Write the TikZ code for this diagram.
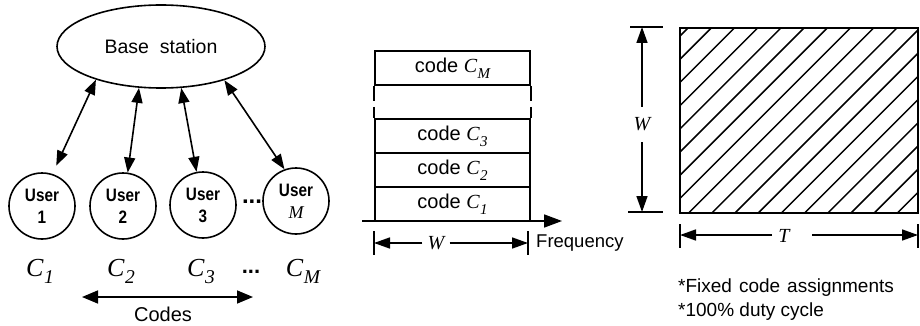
\documentclass[tikz,border=0pt]{standalone}
\usepackage{fontspec}
\setmainfont{Liberation Sans}
\newfontfamily\tmsfont{Liberation Serif}
\newfontfamily\narrowfont{Liberation Sans}[FakeStretch=0.85]
\usetikzlibrary{arrows.meta,shapes.geometric}
% italic serif symbol, optionally with a subscript
\newcommand\itsym[1]{{\tmsfont\itshape #1}}
\newcommand\csub[2]{{\tmsfont\itshape #1\kern0.02em\raisebox{-0.3em}{\scalebox{0.75}{#2}}}}

\begin{document}
\begin{tikzpicture}[x=1pt,y=-1pt,
  thick line/.style={line width=1.6pt},
  linkarrow/.style={thick line,{Triangle[length=15pt,width=11pt]}-{Triangle[length=15pt,width=11pt]}},
  dimarrow/.style={thick line,-{Triangle[length=16pt,width=11pt]}},
  userbox/.style={circle,draw,thick line,minimum size=66pt,inner sep=0pt,align=center,
    font=\narrowfont\bfseries\fontsize{18}{22}\selectfont},
  codebox/.style={rectangle,draw,thick line,minimum width=155pt,minimum height=34pt,inner sep=0pt,
    font=\fontsize{20}{22}\selectfont},
  label/.style={inner sep=0pt,font=\fontsize{19}{21}\selectfont},
  codelabel/.style={inner sep=0pt,anchor=base,font=\fontsize{26}{28}\selectfont},
]
\useasboundingbox (0,0) rectangle (920,326);

% ---------------- base station and users ----------------
\node[ellipse,draw,thick line,minimum width=208pt,minimum height=83pt,inner sep=0pt,
      font=\fontsize{19.5}{22}\selectfont] (base) at (161,46.5) {Base\ \ station};

\node[userbox] (u1) at (42,206) {User\\1};
\node[userbox] (u2) at (123,206) {User\\2};
\node[userbox] (u3) at (203,205) {User\\3};
\node[userbox] (uM) at (296,201) {User\\\itsym{\mdseries M}};

\draw[linkarrow,shorten >=9pt] (base.207.6) -- (u1.72);
\draw[linkarrow] (base.242.9) -- (u2.82);
\draw[linkarrow] (base.296) -- (u3.101);
\draw[linkarrow] (base.332.2) -- (uM.110.8);

\node[inner sep=0pt,font=\bfseries\fontsize{24}{24}\selectfont] (udots) at (252,202) {...};

% code labels under the users
\node[codelabel] (c1lab) at (40,276) {\csub{C}{1}};
\node[codelabel] (c2lab) at (121,276) {\csub{C}{2}};
\node[codelabel] (c3lab) at (201,276) {\csub{C}{3}};
\node[codelabel,font=\bfseries\fontsize{22}{22}\selectfont] (cdots) at (251,273) {...};
\node[codelabel] (cMlab) at (303,276) {\csub{C}{M}};

\coordinate (codesL) at (82,297);
\coordinate (codesR) at (253,297);
\draw[thick line,{Triangle[length=16pt,width=13pt]}-{Triangle[length=16pt,width=13pt]}] (codesL) -- (codesR);
\node[label,font=\fontsize{20}{22}\selectfont] (codes) at (163,314.5) {Codes};

% ---------------- code stack over the band W ----------------
\node[codebox] (cM) at (452.5,68) {code \csub{C}{M}};
\node[codebox] (c3) at (452.5,136) {code \csub{C}{3}};
\node[codebox] (c2) at (452.5,170) {code \csub{C}{2}};
\node[codebox] (c1) at (452.5,204) {code \csub{C}{1}};
\draw[thick line,dash pattern=on 15pt off 6pt] (cM.south west) -- (c3.north west);
\draw[thick line,dash pattern=on 15pt off 6pt] (cM.south east) -- (c3.north east);

\coordinate (fa) at (362,221);
\coordinate (fb) at (562,221);
\draw[thick line,-{Triangle[length=18pt,width=13pt]}] (fa) -- (fb);

\coordinate (wL) at (374,243);
\coordinate (wR) at (528,243);
\draw[thick line] (374,231) -- (374,255);
\draw[thick line] (528,231) -- (528,255);
\node[inner sep=0pt,inner xsep=5pt,font=\fontsize{20}{22}\selectfont] (wlab) at (436,243) {\itsym{W}};
\draw[dimarrow] (wlab) -- (wL);
\draw[dimarrow] (wlab) -- (wR);
\node[label,font=\fontsize{18.5}{21}\selectfont,anchor=west] (freq) at (536,243) {Frequency};

% ---------------- time-frequency occupancy ----------------
\begin{scope}
  \clip (680,28) rectangle (918,213);
  \foreach \k in {0,...,18}
    \draw[line width=1.5pt] ({688+23.2*\k+10},18) -- ({688+23.2*\k-195},223);
\end{scope}
\draw[thick line] (680,28) rectangle (918,213);

\coordinate (vT) at (642,27);
\coordinate (vB) at (642,212);
\draw[thick line] (630,27) -- (663,27);
\draw[thick line] (628,212) -- (663,212);
\node[inner sep=0pt,font=\fontsize{20}{22}\selectfont] (wvlab) at (642,124) {\itsym{W}};
\coordinate (wvgT) at (642,107);
\coordinate (wvgB) at (642,142);
\draw[dimarrow] (wvgT) -- (vT);
\draw[dimarrow] (wvgB) -- (vB);

\coordinate (tL) at (680,235);
\coordinate (tR) at (918,235);
\draw[thick line] (680,224) -- (680,248);
\draw[thick line] (918,224) -- (918,248);
\node[inner sep=0pt,font=\fontsize{20}{22}\selectfont] (tlab) at (784,236) {\itsym{T}};
\coordinate (tgL) at (772,235);
\coordinate (tgR) at (812,235);
\draw[dimarrow] (tgL) -- (tL);
\draw[dimarrow] (tgR) -- (tR);

\node[label,anchor=west] (note1) at (678,288) {*Fixed\hspace{7pt}code\hspace{7pt}assignments};
\node[label,anchor=west] (note2) at (678,312) {*100\% duty cycle};
\end{tikzpicture}
\end{document}
